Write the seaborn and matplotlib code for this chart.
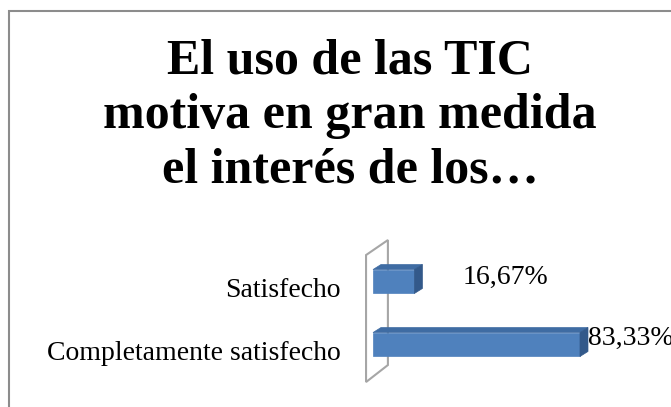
import numpy as np
import matplotlib
matplotlib.use("Agg")
import matplotlib.pyplot as plt
import matplotlib.transforms as mtransforms
from matplotlib.patches import Polygon, Rectangle
import seaborn as sns

# ── datos ────────────────────────────────────────────
categorias = ["Satisfecho", "Completamente satisfecho"]
porcentajes = [16.67, 83.33]
etiquetas = ["16,67%", "83,33%"]
titulo = "El uso de las TIC\nmotiva en gran medida\nel interés de los…"

# desplazamiento de cada etiqueta de valor (puntos)
desplazamientos = [(35, 3), (6, 4.5)]

sns.set_style("white")
plt.rcParams["font.family"] = ["Liberation Serif", "DejaVu Serif"]
plt.rcParams["text.color"] = "black"
plt.rcParams["ytick.color"] = "black"
plt.rcParams["xtick.color"] = "black"

fig = plt.figure(figsize=(6.71, 4.07), dpi=100)
ax = fig.add_axes([373 / 671, 31 / 407, 248.4 / 671, 126 / 407])

azul = "#4F81BD"
sns.barplot(x=porcentajes, y=categorias, orient="h", color=azul,
            saturation=1, width=0.38, ax=ax, zorder=2,
            edgecolor=azul, linewidth=0.5)

ax.set_xlim(0, 100)
ax.set_ylim(1.5, -0.5)
ax.set_xlabel("")
ax.set_ylabel("")
ax.set_xticks([])
for s in ax.spines.values():
    s.set_visible(False)
ax.patch.set_alpha(0)
ax.tick_params(axis="y", length=0, pad=23, labelsize=20, labelcolor="black")
bajar = mtransforms.ScaledTranslation(0, -0.06, fig.dpi_scale_trans)
for lab in ax.get_yticklabels():
    lab.set_transform(lab.get_transform() + bajar)

# pared del eje (efecto 3D)
pared = Polygon([(-0.028, -0.048), (-0.028, 0.960), (0.060, 1.079), (0.060, 0.087)],
                closed=True, transform=ax.transAxes, facecolor="white",
                edgecolor="#A6A6A6", lw=1.5, zorder=0.5, clip_on=False)

# caras superior y lateral de las barras
prof = mtransforms.ScaledTranslation(8 / 100, 5 / 100, fig.dpi_scale_trans)
tr = ax.transData
for p in list(ax.patches):
    x0, y0 = p.get_x(), p.get_y()
    x1 = x0 + p.get_width()
    ytop = min(y0, y0 + p.get_height())
    ybot = max(y0, y0 + p.get_height())
    # cara superior
    frente = tr.transform([(x0, ytop), (x1, ytop)])
    fondo = (tr + prof).transform([(x1, ytop), (x0, ytop)])
    fig.add_artist(Polygon(np.vstack([frente, fondo]), closed=True,
                           transform=None, facecolor="#3F6CA3",
                           edgecolor="#3F6CA3", lw=0.5, zorder=3))
    # cara lateral
    frente = tr.transform([(x1, ybot), (x1, ytop)])
    fondo = (tr + prof).transform([(x1, ytop), (x1, ybot)])
    fig.add_artist(Polygon(np.vstack([frente, fondo]), closed=True,
                           transform=None, facecolor="#33598A",
                           edgecolor="#33598A", lw=0.5, zorder=3))
ax.add_patch(pared)

# etiquetas de valor
for i, (v, t) in enumerate(zip(porcentajes, etiquetas)):
    ax.annotate(t, xy=(v, i), xytext=desplazamientos[i],
                textcoords="offset points", ha="left", va="center",
                fontsize=20, color="black", annotation_clip=False, zorder=4)

# título
fig.text(350 / 671, 1 - 38 / 407, titulo, ha="center", va="top",
         fontsize=36, fontweight="bold", color="black", linespacing=1.25)

# borde del gráfico
fig.add_artist(Rectangle((9 / 671, -0.2), 1.2, 0.2 + 1 - 11 / 407,
                         transform=fig.transFigure, fill=False,
                         edgecolor="#8C8C8C", lw=1.5))

fig.savefig("out.png", dpi=100)
